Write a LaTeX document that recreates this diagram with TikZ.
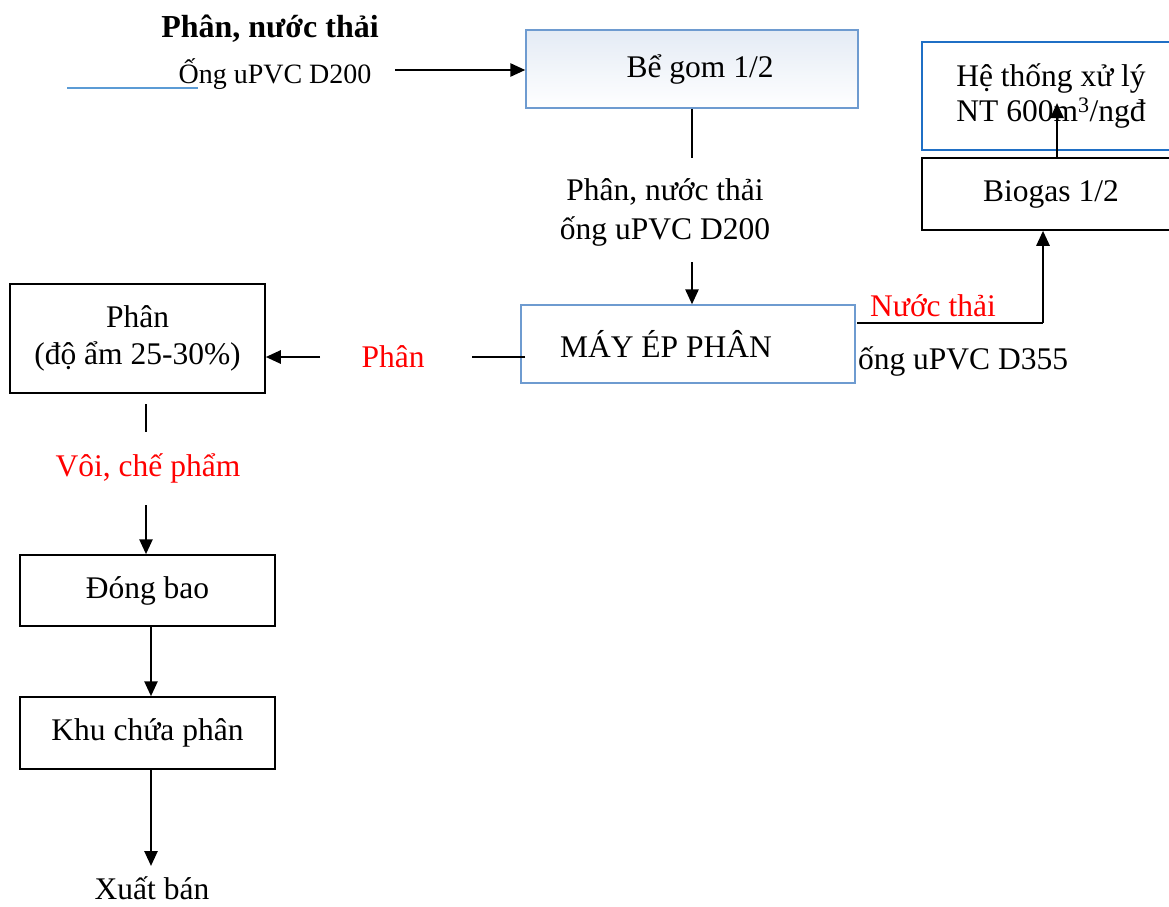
\documentclass[tikz,border=0pt]{standalone}
\usepackage{fontspec}
\setmainfont{Liberation Serif}
\usetikzlibrary{arrows.meta}
\definecolor{boxblue}{HTML}{6E9BD0}
\definecolor{sysblue}{HTML}{1F6FC5}
\definecolor{pipeblue}{HTML}{5B9BD5}
\definecolor{gomfill}{HTML}{E4EBF5}
\begin{document}
\begin{tikzpicture}[x=1pt,y=-1pt,
  font=\fontsize{31.5}{37}\selectfont,
  box/.style={draw=black, line width=1.5pt, inner sep=0pt, align=center},
  flow/.style={line width=2.6pt, -{Triangle[length=15pt,width=13pt]}},
  link/.style={line width=2.6pt},
  note/.style={inner sep=0pt, align=center, text height=21pt, text depth=7pt},
  multinote/.style={inner sep=0pt, align=center},
  rednote/.style={note, text=red}]
\useasboundingbox (0,0) rectangle (1169,906);

% boxes
\node[box, draw=boxblue, line width=1.3pt, top color=gomfill, bottom color=white,
      minimum width=332pt, minimum height=78pt] (gom) at (692,69) {\raisebox{-3pt}{Bể gom 1/2}\hspace*{-16pt}};
\node[box, draw=boxblue, line width=1.3pt,
      minimum width=334pt, minimum height=78pt] (may) at (688,344) {MÁY ÉP PHÂN\hspace*{44pt}};
\node[box, draw=sysblue, line width=2.6pt,
      minimum width=258pt, minimum height=108pt] (sys) at (1051,96) {Hệ thống xử lý\\[-2pt] NT 600m\textsuperscript{3}/ngđ};
\node[box, minimum width=258pt, minimum height=72pt] (bio) at (1051,194) {\raisebox{-3pt}{Biogas 1/2}};
\node[box, minimum width=255pt, minimum height=109pt] (phan) at (137.5,338.5) {Phân\\ (độ ẩm 25-30\%)};
\node[box, minimum width=255pt, minimum height=71pt] (dong) at (147.5,590.5) {Đóng bao};
\node[box, minimum width=255pt, minimum height=72pt] (khu) at (147.5,733) {Khu chứa phân};
\node[inner sep=0pt, anchor=base, text depth=0pt] (xuat) at (152,899) {Xuất bán};

% labels
\node[note, font=\bfseries\fontsize{32}{38}\selectfont] (inlabel) at (270,30) {Phân, nước thải};
\node[note, font=\fontsize{28}{33}\selectfont, text height=20pt, text depth=6pt] (inpipe) at (275,76) {Ống uPVC D200};
\node[multinote] (gomlabel) at (665,212) {Phân, nước thải\\[2pt] ống uPVC D200};
\node[rednote] (wlabel) at (933,309) {Nước thải};
\node[note] (wpipe) at (963,362) {ống uPVC D355};
\node[rednote] (plabel) at (393,360) {Phân};
\node[rednote] (vlabel) at (148,469) {Vôi, chế phẩm};

% named points along the connectors
\coordinate (pipeA) at (67,88);
\coordinate (pipeB) at (198,88);
\coordinate (inStart) at (395,70);
\coordinate (gomStop) at (692,158);
\coordinate (gomRestart) at (692,262);
\coordinate (wOut) at (857,323);
\coordinate (wCorner) at (1043,323);
\coordinate (sysTip) at (1057,103);
\coordinate (pOut) at (525,357);
\coordinate (pStop) at (472,357);
\coordinate (pRestart) at (320,357);
\coordinate (vStart) at (146,404);
\coordinate (vStop) at (146,432);
\coordinate (vRestart) at (146,505);
\coordinate (bagX) at (151,0);
\coordinate (xuatTip) at (151,866);

% connectors
\draw[pipeblue, line width=1.6pt] (pipeA) -- (pipeB);
\draw[flow] (inStart) -- (inStart -| gom.west);
\draw[link] (gom.south -| gomStop) -- (gomStop);
\draw[flow] (gomRestart) -- (gomRestart |- may.north);
\draw[link] (wOut) -- (wCorner);
\draw[flow] (wCorner) -- (wCorner |- bio.south);
\draw[flow] (sysTip |- bio.north) -- (sysTip);
\draw[link] (pOut) -- (pStop);
\draw[flow] (pRestart) -- (pRestart -| phan.east);
\draw[link] (vStart) -- (vStop);
\draw[flow] (vRestart) -- (vRestart |- dong.north);
\draw[flow] (bagX |- dong.south) -- (bagX |- khu.north);
\draw[flow] (bagX |- khu.south) -- (xuatTip);
\end{tikzpicture}
\end{document}
